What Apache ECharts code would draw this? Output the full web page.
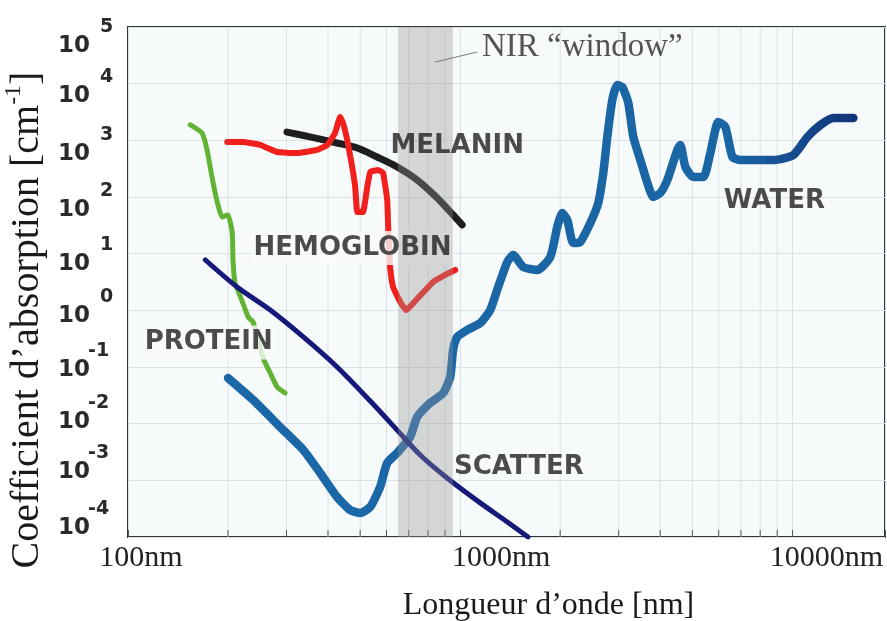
<!DOCTYPE html>
<html><head><meta charset="utf-8">
<script src="https://cdn.jsdelivr.net/npm/echarts@6/dist/echarts.min.js"></script>
<style>html,body{margin:0;padding:0;background:#fff}#c{width:887px;height:621px}</style>
</head><body><div id="c"></div>
<script>
// ---------- data (wavelength in nm, absorption coefficient in cm^-1) ----------
const waterNm = [200,238,287,337,379,426,466,500,536,574,603,646,707,742,812,889,933,952,979,1050,1149,1231,1292,1386,1444,1548,1706,1867,1960,2029,2101,2190,2298,2464,2604,2696,2772,2870,2971,3076,3207,3320,3485,3659,3814,4004,4203,4504,4600,4762,5032,5393,5662,5985,6284,6597,6974,8767,10070,11096,12143,13290,15264];
const waterVal = [0.064,0.0262,0.00875,0.00344,0.00135,0.000508,0.0003,0.000265,0.000339,0.000764,0.00202,0.00304,0.00582,0.0131,0.0232,0.0348,0.0667,0.2,0.339,0.45,0.598,1.01,2.29,7.13,9.48,5.82,5.15,8.73,29.6,52.2,39.3,15.4,16.1,34.8,78.4,265,1146,5152,9474,8736,4560,1146,450,177,100,118,200,676,828,339,225,225,598,2108,1720,508,450,450,551,1146,1866,2478,2478];

const proteinNm  = [154,167,173,179,185,192,200,206,207,210,220,230,238,246,255,268,281,297];
const proteinVal = [1870,1350,676,225,88.5,44.4,48.2,23.2,7.73,3.04,1.52,0.763,0.622,0.300,0.144,0.0784,0.0444,0.0348];

const hemoNm  = [199,222,250,281,323,371,398,420,435,444,457,473,483,490,510,525,536,566,586,603,607,611,615,628,660,688,732,829,913,966];
const hemoVal = [935,935,828,622,598,676,828,1350,2580,2020,1014,339,150,54.3,54.3,150,276,300,265,88.5,29.6,11.6,5.82,2.58,1.40,1.01,1.46,3.16,4.38,5.15];

const melaninNm  = [301,353,426,490,562,646,742,853,952,1014];
const melaninVal = [1400,1150,898,733,508,339,200,96.1,48.2,32.1];

const scatterNm  = [171,213,268,337,426,536,646,758,913,1149,1386,1600];
const scatterVal = [7.73,2.58,1.01,0.339,0.1,0.0251,0.0077,0.0028,0.0011,0.0004,0.000184,0.0001];

const nirWindow = [650, 950];
const xTickNm = [100, 1000, 10000];
const minorTickNm = [200,300,400,500,600,700,800,900,2000,3000,4000,5000,6000,7000,8000,9000];
const yTickExponents = [-4,-3,-2,-1,0,1,2,3,4,5];

const labelNames = ['MELANIN','HEMOGLOBIN','PROTEIN','SCATTER','WATER'];
const labelNm    = [979, 474, 175, 1501, 8827];
const labelVal   = [794, 12.6, 0.271, 0.00169, 85.1];
const nirText = 'NIR “window”';
const nirTextPos = [2331, 44370];
const nirLeader = [[841, 24120], [1125, 36220]];

// ---------- build ----------
const pair = (xs, ys) => xs.map((x, i) => [x, ys[i]]);
const X_MIN = 100, X_MAX = 19000, Y_MIN = 1e-4, Y_MAX = 1e5;
const PLOT_BG = '#f7fafb';
const GRID_C = '#d9e3e7';

// y label offsets (px) of the "10" body relative to its grid line, as in the scan
const yLabelShift = {'5':19,'4':12,'3':14,'2':13,'1':10,'0':6,'-1':3,'-2':-2,'-3':-8,'-4':-9};
const yRich = {};
yTickExponents.forEach(e => {
  const k = e + 4;
  const d = yLabelShift[String(e)];
  const bPad = d >= 0 ? [2*d,0,0,0] : [0,0,-2*d,0];
  const r = d - 19;
  const sPad = r >= 0 ? [2*r,0,0,0] : [0,0,-2*r,0];
  yRich['b'+k] = {fontFamily:'DejaVu Sans', fontWeight:'bold', fontSize:23, color:'#2a2a2a', padding:bPad, width: e >= 0 ? 42 : 30, verticalAlign:'middle'};
  yRich['s'+k] = {fontFamily:'DejaVu Sans', fontWeight:'bold', fontSize:19, color:'#2a2a2a', padding:sPad, verticalAlign:'middle'};
});

const isPow10 = v => { const e = Math.log10(v); return Math.abs(e - Math.round(e)) < 1e-6; };

const lineBase = {type:'line', showSymbol:false, symbol:'none', silent:true, z:2,
  lineStyle:{cap:'round', join:'round'}};

const option = {
  animation:false,
  backgroundColor:'#ffffff',
  grid:{left:128, right:2, top:27, bottom:84, show:true, backgroundColor:PLOT_BG, borderColor:'#333', borderWidth:2,
        containLabel:false, outerBoundsMode:'none'},
  xAxis:{
    type:'log', logBase:10, min:X_MIN, max:X_MAX,
    axisLine:{show:false},
    axisTick:{show:true, inside:true, length:7, lineStyle:{color:'#555', width:1}},
    splitLine:{show:true, lineStyle:{color:GRID_C, width:1}},
    axisLabel:{
      margin:6,
      formatter: v => {
        if (!isPow10(v)) return '';
        const k = Math.round(Math.log10(v));
        return '{x'+k+'|'+Math.round(v)+'nm}';
      },
      rich:{
        x2:{fontFamily:'Liberation Serif', fontSize:30, color:'#222', padding:[0,0,0,26]},
        x3:{fontFamily:'Liberation Serif', fontSize:30, color:'#222', padding:[0,0,0,82]},
        x4:{fontFamily:'Liberation Serif', fontSize:30, color:'#222', padding:[0,0,0,68]}
      }
    },
    name:'Longueur d’onde [nm]', nameLocation:'middle', nameGap:53,
    nameTextStyle:{fontFamily:'Liberation Serif', fontSize:32, color:'#1a1a1a', padding:[0,0,0,84]}
  },
  yAxis:{
    type:'log', logBase:10, min:Y_MIN, max:Y_MAX,
    axisLine:{show:false}, axisTick:{show:false},
    splitLine:{show:true, lineStyle:{color:GRID_C, width:1}},
    axisLabel:{
      margin:70, align:'left',
      formatter: v => {
        const e = Math.round(Math.log10(v));
        const k = e + 4;
        return '{b'+k+'|10}{s'+k+'|'+e+'}';
      },
      rich:yRich
    },
    name:'{t|Coefficient d’absorption [cm}{u|-1}{t|]}', nameLocation:'middle', nameGap:73,
    nameTextStyle:{fontFamily:'Liberation Serif', fontSize:40, color:'#1a1a1a', padding:[0,76,0,0],
      rich:{t:{fontFamily:'Liberation Serif', fontSize:40, color:'#1a1a1a'},
            u:{fontFamily:'Liberation Serif', fontSize:24, color:'#1a1a1a', padding:[0,0,26,0]}}}
  },
  series:[
    { // minor grid lines and minor ticks
      type:'custom', z:1, silent:true, clip:false,
      data: minorTickNm.map(v => [v, Y_MIN]),
      renderItem:(params, api) => {
        const v = api.value(0);
        const t = api.coord([v, Y_MAX]);
        const b = api.coord([v, Y_MIN]);
        return {type:'group', children:[
          {type:'line', shape:{x1:t[0], y1:t[1], x2:b[0], y2:b[1]}, style:{stroke:GRID_C, lineWidth:1}},
          {type:'line', shape:{x1:b[0], y1:b[1], x2:b[0], y2:b[1]-7}, style:{stroke:'#555', lineWidth:1}}
        ]};
      }
    },
    Object.assign({}, lineBase, {name:'Water', data:pair(waterNm, waterVal), smooth:0.2,
      lineStyle:{width:8.5, cap:'round', join:'round',
        color:new echarts.graphic.LinearGradient(0,0,1,0,[{offset:0,color:'#1b68a8'},{offset:0.8,color:'#1a65a4'},{offset:1,color:'#10337a'}])}}),
    Object.assign({}, lineBase, {name:'Protein', data:pair(proteinNm, proteinVal), smooth:0.15,
      lineStyle:{width:5, color:'#62b334', cap:'round', join:'round'}}),
    Object.assign({}, lineBase, {name:'Melanin', data:pair(melaninNm, melaninVal), smooth:0.3,
      lineStyle:{width:7, color:'#1e1e1e', cap:'round', join:'round'}}),
    Object.assign({}, lineBase, {name:'Hemoglobin', data:pair(hemoNm, hemoVal), smooth:0.1,
      lineStyle:{width:6, color:'#f2201c', cap:'round', join:'round'}}),
    Object.assign({}, lineBase, {name:'Scatter', data:pair(scatterNm, scatterVal), smooth:0.3,
      lineStyle:{width:5, color:'#15197a', cap:'round', join:'round'}}),
    { // label backgrounds (erase lines below labels)
      type:'scatter', z:3, silent:true, symbolSize:1, itemStyle:{color:'rgba(0,0,0,0)'},
      data: labelNames.map((n, i) => ({name:n, value:[labelNm[i], labelVal[i]]})).filter(d => d.name==='PROTEIN' || d.name==='HEMOGLOBIN'),
      label:{show:true, position:'inside', formatter:'{b}', fontFamily:'DejaVu Sans', fontWeight:'bold', fontSize:26,
        color:PLOT_BG, backgroundColor:PLOT_BG, padding:[4,2,4,2]}
    },
    { // NIR window band
      type:'custom', z:5, silent:true,
      data:[[nirWindow[0], Y_MAX, nirWindow[1], Y_MIN]],
      renderItem:(params, api) => {
        const a = api.coord([api.value(0), api.value(1)]);
        const b = api.coord([api.value(2), api.value(3)]);
        return {type:'rect', shape:{x:a[0], y:a[1], width:b[0]-a[0], height:b[1]-a[1]}, style:{fill:'rgba(150,150,150,0.36)'}};
      }
    },
    { // curve labels
      type:'scatter', z:7, silent:true, symbolSize:1, itemStyle:{color:'rgba(0,0,0,0)'},
      data: labelNames.map((n, i) => ({name:n, value:[labelNm[i], labelVal[i]]})),
      label:{show:true, position:'inside', formatter:'{b}', fontFamily:'DejaVu Sans', fontWeight:'bold', fontSize:26, color:'#1f1f1f'}
    },
    {
      type:'scatter', z:7, silent:true, symbolSize:1, itemStyle:{color:'rgba(0,0,0,0)'},
      data:[{name:nirText, value:nirTextPos}],
      label:{show:true, position:'inside', formatter:'{b}', fontFamily:'Liberation Serif', fontSize:33, color:'#2a2a2a'}
    },
    Object.assign({}, lineBase, {name:'leader', z:7, data:nirLeader, lineStyle:{width:1, color:'#7a7a7a'}})
  ]
};

const chart = echarts.init(document.getElementById('c'), null, {renderer:'canvas'});
chart.setOption(option);
</script>
</body></html>
